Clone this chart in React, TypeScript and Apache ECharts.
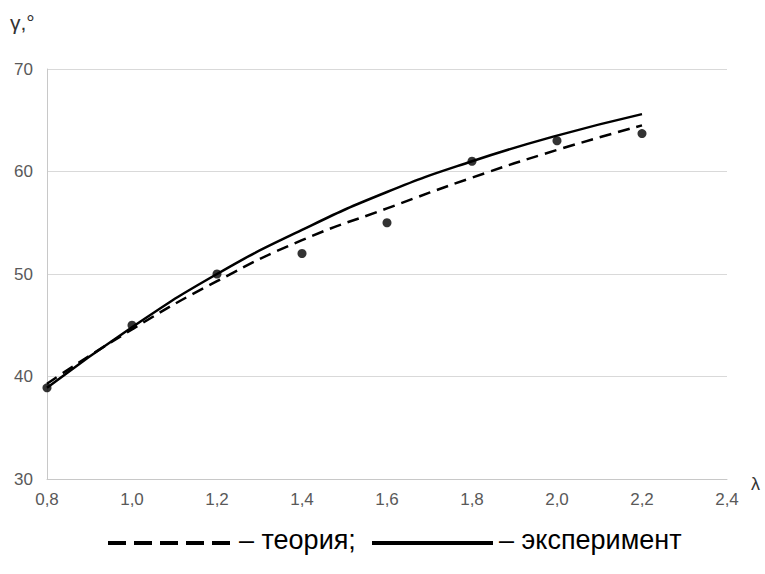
import React, { useEffect, useRef } from "react";
import * as echarts from "echarts";

const lambdaValues = [0.8, 1.0, 1.2, 1.4, 1.6, 1.8, 2.0, 2.2];
const theoryValues = [39.3, 44.6, 49.3, 53.3, 56.4, 59.4, 62.1, 64.5];
const experimentCurve = [38.9, 44.8, 50.0, 54.3, 58.0, 61.0, 63.5, 65.6];
const experimentPoints = [38.9, 45.0, 50.0, 52.0, 55.0, 61.0, 63.0, 63.7];

const fmt = (v: number) => v.toFixed(1).replace(".", ",");
const FONT = "Liberation Sans, Arial";

export default function App() {
  const ref = useRef<HTMLDivElement>(null);
  useEffect(() => {
    if (!ref.current) return;
    const chart = echarts.init(ref.current, undefined, { renderer: "svg" });
    const pair = (ys: number[]) => lambdaValues.map((x, i) => [x, ys[i]]);
    chart.setOption({
      animation: false,
      backgroundColor: "#ffffff",
      grid: { left: 47, right: 38, top: 69, bottom: 95, containLabel: false },
      xAxis: {
        type: "value",
        min: 0.8,
        max: 2.4,
        interval: 0.2,
        axisLine: { show: true, lineStyle: { color: "#c8c8c8", width: 1 } },
        axisTick: { show: false },
        splitLine: { show: false },
        axisLabel: {
          formatter: (v: number) => fmt(v),
          color: "#595959",
          fontFamily: FONT,
          fontSize: 17,
          margin: 12,
        },
      },
      yAxis: {
        type: "value",
        min: 30,
        max: 70,
        interval: 10,
        axisLine: { show: true, lineStyle: { color: "#c8c8c8", width: 1 } },
        axisTick: { show: false },
        splitLine: { show: true, lineStyle: { color: "#d9d9d9", width: 1 } },
        axisLabel: {
          color: "#595959",
          fontFamily: FONT,
          fontSize: 17,
          margin: 14,
        },
      },
      graphic: [
        {
          type: "text",
          left: 10,
          top: 12,
          style: { text: "γ,°", fontFamily: FONT, fontSize: 21, fill: "#333" },
        },
        {
          type: "text",
          left: 751,
          top: 475,
          style: { text: "λ", fontFamily: FONT, fontSize: 18, fill: "#333" },
        },
        {
          type: "line",
          shape: { x1: 108, y1: 543, x2: 232, y2: 543 },
          style: { stroke: "#000", lineWidth: 4, lineDash: [18, 8] },
        },
        {
          type: "text",
          left: 239,
          top: 526,
          style: { text: "– теория;", fontFamily: FONT, fontSize: 27, fill: "#000" },
        },
        {
          type: "line",
          shape: { x1: 372, y1: 543, x2: 493, y2: 543 },
          style: { stroke: "#000", lineWidth: 4 },
        },
        {
          type: "text",
          left: 499,
          top: 526,
          style: { text: "– эксперимент", fontFamily: FONT, fontSize: 27, fill: "#000" },
        },
      ],
      series: [
        {
          name: "теория",
          type: "line",
          data: pair(theoryValues),
          smooth: true,
          showSymbol: false,
          lineStyle: { color: "#000", width: 2.5, type: [12, 7] },
        },
        {
          name: "эксперимент",
          type: "line",
          data: pair(experimentCurve),
          smooth: true,
          showSymbol: false,
          lineStyle: { color: "#000", width: 2.5 },
        },
        {
          name: "точки",
          type: "scatter",
          data: pair(experimentPoints),
          symbolSize: 9,
          itemStyle: { color: "#000" },
        },
      ],
    });
    return () => chart.dispose();
  }, []);
  return (
    <div
      ref={ref}
      style={{ position: "fixed", left: 0, top: 0, width: 765, height: 574, background: "#fff" }}
    />
  );
}
